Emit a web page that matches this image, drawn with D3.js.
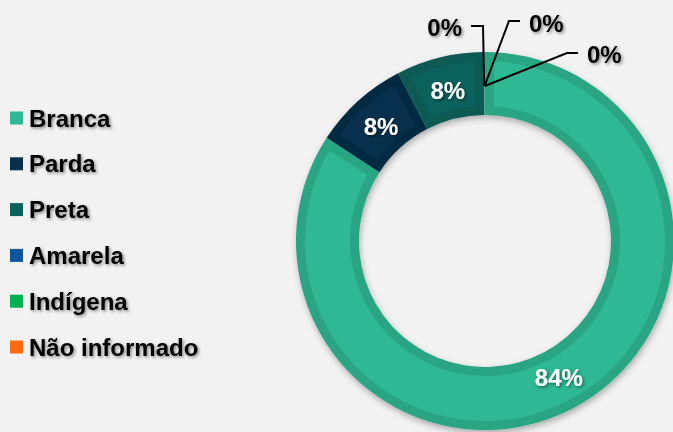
<!DOCTYPE html>
<html>
<head>
<meta charset="utf-8">
<script src="https://cdn.jsdelivr.net/npm/d3@7"></script>
<style>
  body { margin: 0; background: #f2f2f2; }
  svg { display: block; font-family: "Liberation Sans", Arial, sans-serif; font-weight: bold; }
</style>
</head>
<body>
<svg id="chart" width="673" height="432"></svg>
<script>
// Categories, values (percent) and colours.
const categories = ["Branca", "Parda", "Preta", "Amarela", "Indígena", "Não informado"];
const values = [84.2, 8.2, 7.5, 0.04, 0.03, 0.03];
const labels = ["84%", "8%", "8%", "0%", "0%", "0%"];
const colors = ["#2eb894", "#06304c", "#0b625c", "#0e559b", "#00b050", "#ff6a10"];
const edgeColors = ["#29a584", "#052a42", "#0a5a55", "#0c4c8a", "#009e48", "#e65f0e"];

// Leader-line layout for the zero slices (offsets from the centre).
const leaderLayout = [
    null, null, null,
    { elbow: [-2, -215], end: [-14, -215], text: [-23, -205], anchor: "end" },
    { elbow: [24, -220], end: [35, -220], text: [44, -209], anchor: "start" },
    { elbow: [82, -188], end: [93, -188], text: [102, -178], anchor: "start" }
];

const svg = d3.select("#chart");
const cx = 485, cy = 241;
const outerR = 189, innerR = 126;

const defs = svg.append("defs");
const ringShadow = defs.append("filter").attr("id", "ringShadow")
    .attr("x", "-20%").attr("y", "-20%").attr("width", "140%").attr("height", "140%");
ringShadow.append("feDropShadow")
    .attr("dx", 1).attr("dy", 3).attr("stdDeviation", 3)
    .attr("flood-color", "#000").attr("flood-opacity", 0.3);

const textShadow = defs.append("filter").attr("id", "textShadow")
    .attr("x", "-20%").attr("y", "-30%").attr("width", "140%").attr("height", "160%");
textShadow.append("feDropShadow")
    .attr("dx", 1.5).attr("dy", 1.5).attr("stdDeviation", 1.4)
    .attr("flood-color", "#000").attr("flood-opacity", 0.45);

// Pie, clockwise from 12 o'clock.
const pie = d3.pie().sort(null).value(d => d);
const arcs = pie(values);

const arcOuter = d3.arc().innerRadius(innerR).outerRadius(outerR);
const arcInner = d3.arc().innerRadius(innerR + 9).outerRadius(outerR - 9)
    .padRadius(180).padAngle(0.1);
const arcMid = d3.arc().innerRadius(155).outerRadius(155);

const g = svg.append("g").attr("transform", `translate(${cx},${cy})`);

const ring = g.append("g").attr("filter", "url(#ringShadow)");
ring.selectAll("path.edge")
    .data(arcs)
    .join("path")
    .attr("class", "edge")
    .attr("d", arcOuter)
    .attr("fill", (d, i) => d.value > 1 ? edgeColors[i] : edgeColors[0]);

g.selectAll("path.face")
    .data(arcs.filter(d => d.value > 1))
    .join("path")
    .attr("class", "face")
    .attr("d", arcInner)
    .attr("fill", d => colors[d.index]);

// Labels inside the big slices.
g.selectAll("text.inside")
    .data(arcs.filter(d => d.value > 1))
    .join("text")
    .attr("class", "inside")
    .attr("transform", d => `translate(${arcMid.centroid(d)})`)
    .attr("text-anchor", "middle")
    .attr("dy", "0.36em")
    .attr("fill", "#fff")
    .attr("font-size", 24)
    .attr("filter", "url(#textShadow)")
    .text(d => labels[d.index]);

// Leader lines and labels for the zero slices.
const zeroArcs = arcs.filter(d => d.value <= 1);
g.selectAll("polyline.leader")
    .data(zeroArcs)
    .join("polyline")
    .attr("class", "leader")
    .attr("points", d => {
        const L = leaderLayout[d.index];
        const p0 = arcMid.centroid(d);
        return [p0, L.elbow, L.end].map(p => p.join(",")).join(" ");
    })
    .attr("fill", "none")
    .attr("stroke", "#000")
    .attr("stroke-width", 2);

g.selectAll("text.outside")
    .data(zeroArcs)
    .join("text")
    .attr("class", "outside")
    .attr("x", d => leaderLayout[d.index].text[0])
    .attr("y", d => leaderLayout[d.index].text[1])
    .attr("text-anchor", d => leaderLayout[d.index].anchor)
    .attr("font-size", 24)
    .attr("fill", "#000")
    .attr("filter", "url(#textShadow)")
    .text(d => labels[d.index]);

// Legend.
const legendY = d3.scalePoint().domain(categories).range([118, 347]);
const legend = svg.append("g").selectAll("g")
    .data(categories)
    .join("g")
    .attr("transform", d => `translate(10,${legendY(d)})`);

legend.append("rect")
    .attr("x", 0).attr("y", -6.5)
    .attr("width", 13).attr("height", 13)
    .attr("fill", (d, i) => colors[i]);

legend.append("text")
    .attr("x", 19)
    .attr("dy", "0.36em")
    .attr("font-size", 24)
    .attr("fill", "#000")
    .attr("filter", "url(#textShadow)")
    .text(d => d);
</script>
</body>
</html>
